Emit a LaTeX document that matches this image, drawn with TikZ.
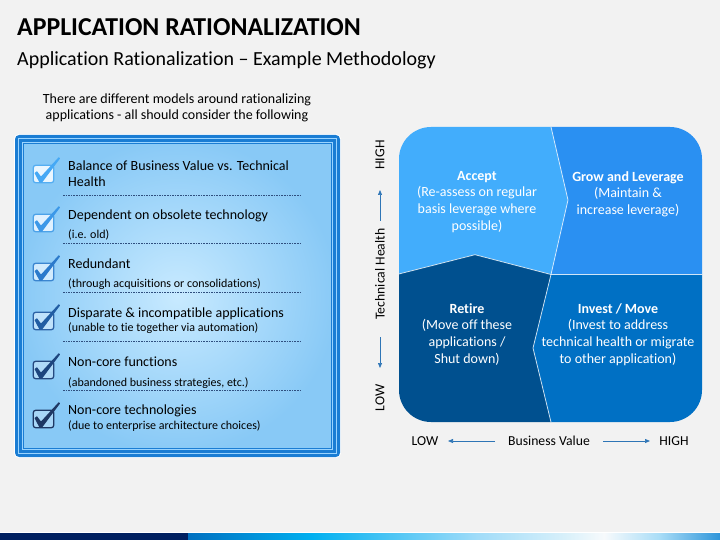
\documentclass[tikz,border=0pt]{standalone}
\usepackage{fontspec}
\setmainfont{Carlito}[Ligatures=NoCommon]
\usetikzlibrary{arrows.meta}
\definecolor{bg}{HTML}{F2F2F2}
\definecolor{boxblue}{HTML}{1A7DD4}
\definecolor{boxlight}{HTML}{9AD4FF}
\definecolor{fillin}{HTML}{C8EAFF}
\definecolor{fillout}{HTML}{88C9F6}
\definecolor{qaccept}{HTML}{42ADFC}
\definecolor{qgrow}{HTML}{2A90F2}
\definecolor{qretire}{HTML}{00508F}
\definecolor{qinvest}{HTML}{0070C4}
\definecolor{axisblue}{HTML}{2E75B6}
\definecolor{dashc}{HTML}{2F4F7F}
\definecolor{navy}{HTML}{002060}
\definecolor{g1}{HTML}{0070C0}
\definecolor{g2}{HTML}{00B0F0}
\definecolor{g3}{HTML}{A0DCF9}
\definecolor{g4}{HTML}{D8F0FA}
\definecolor{g5}{HTML}{F7FAFC}
\definecolor{g6}{HTML}{A9DDF7}
\definecolor{g7}{HTML}{2E95DA}
\definecolor{cA}{HTML}{45A8F5}\definecolor{fA}{HTML}{EAF6FF}\definecolor{bA}{HTML}{55AEF2}
\definecolor{cB}{HTML}{3C98E8}\definecolor{fB}{HTML}{E0F1FF}\definecolor{bB}{HTML}{4CA2E8}
\definecolor{cC}{HTML}{2C7ACB}\definecolor{fC}{HTML}{D2EBFD}\definecolor{bC}{HTML}{3C86D0}
\definecolor{cD}{HTML}{215DA3}\definecolor{fD}{HTML}{C0E2FB}\definecolor{bD}{HTML}{2D63A6}
\definecolor{cE}{HTML}{1D457E}\definecolor{fE}{HTML}{B0DAF8}\definecolor{bE}{HTML}{26497F}
\definecolor{cF}{HTML}{1F3864}\definecolor{fF}{HTML}{A8D6F7}\definecolor{bF}{HTML}{1F3864}
\newcommand\FS[2]{\fontsize{#1}{#2}\selectfont}
\newcommand\ChkItem[5]{%
  \node[chkbox, fill=#3, draw=#4] (#1) at (43.5,#2) {};
  \fill[#5, rounded corners=0.4pt, shift={(43.5,#2)}] (-9,-1) -- (-6.5,-2.8) -- (-2.5,2.5) -- (15.2,-16.8) -- (16.6,-15.6) -- (-1.5,8.6) -- (-4,8.6) -- cycle;
}
\begin{document}
\begin{tikzpicture}[x=1pt,y=-1pt,
  chkbox/.style={minimum width=20.5pt, minimum height=17.5pt, inner sep=0, rounded corners=2.5pt, line width=1.3pt},
  itemmain/.style={anchor=base west, inner sep=0, font=\FS{14}{17}},
  itemsub/.style={anchor=base west, inner sep=0, font=\FS{12}{14}},
  dashline/.style={dashc, line width=0.6pt, dash pattern=on 1.6pt off 1pt},
  qtext/.style={white, align=center, inner sep=0, anchor=north, font=\FS{14}{16.7}},
  axtext/.style={inner sep=0, font=\FS{13.7}{15}},
  axarrow/.style={axisblue, line width=0.7pt, -{Triangle[length=5pt,width=4pt]}},
  sep/.style={white, opacity=0.75, line width=0.8pt}]
\useasboundingbox (0,0) rectangle (720,540);
\fill[bg] (0,0) rectangle (720,540);

% titles
\node[anchor=base west, inner sep=0, font=\bfseries\FS{25.8}{30}] (title) at (17,36) {APPLICATION RATIONALIZATION};
\node[anchor=base west, inner sep=0, font=\FS{20}{24}] (subtitle) at (17,65.7) {Application Rationalization – Example Methodology};

% intro
\node[anchor=base, inner sep=0, font=\FS{14}{16}] (intro1) at (177,104) {There are different models around rationalizing};
\node[anchor=base, inner sep=0, font=\FS{14}{16}] (intro2) at (177,120) {applications - all should consider the following};

% blue box
\draw[white, line width=0.8pt, rounded corners=4pt] (14.6,134.6) rectangle (340.4,457.4);
\shade[inner color=fillin, outer color=fillout, shading=radial] (18,138) rectangle (337,454);
\draw[boxblue, line width=2.8pt, rounded corners=3pt] (16.4,136.4) rectangle (338.6,455.6);
\draw[boxlight, line width=1.4pt] (18.6,138.6) rectangle (336.4,453.4);
\draw[boxblue, line width=2.4pt] (20.5,140.5) rectangle (334.5,451.5);
\draw[boxlight, line width=1.1pt] (22.3,142.3) rectangle (332.7,449.7);
\draw[boxblue, line width=0.9pt] (23.4,143.4) rectangle (331.6,448.6);

% items
\ChkItem{k1}{174}{fA}{bA}{cA}
\ChkItem{k2}{223}{fB}{bB}{cB}
\ChkItem{k3}{272}{fC}{bC}{cC}
\ChkItem{k4}{321}{fD}{bD}{cD}
\ChkItem{k5}{370}{fE}{bE}{cE}
\ChkItem{k6}{419}{fF}{bF}{cF}

\node[itemmain] (t1a) at (68,171) {Balance of Business Value vs. Technical};
\node[itemmain] (t1b) at (68,186.5) {Health};
\draw[dashline] (63,195.5) -- (302,195.5);
\node[itemmain] (t2a) at (68,219) {Dependent on obsolete technology};
\node[itemsub] (t2b) at (68,238) {(i.e. old)};
\draw[dashline] (63,243.5) -- (302,243.5);
\node[itemmain] (t3a) at (68,268) {Redundant};
\node[itemsub] (t3b) at (68,287) {(through acquisitions or consolidations)};
\draw[dashline] (63,292.5) -- (302,292.5);
\node[itemmain] (t4a) at (68,317) {Disparate \& incompatible applications};
\node[itemsub] (t4b) at (68,331) {(unable to tie together via automation)};
\draw[dashline] (63,341.5) -- (302,341.5);
\node[itemmain] (t5a) at (68,366) {Non-core functions};
\node[itemsub] (t5b) at (68,386) {(abandoned business strategies, etc.)};
\draw[dashline] (63,390.5) -- (302,390.5);
\node[itemmain] (t6a) at (68,414.5) {Non-core technologies};
\node[itemsub] (t6b) at (68,429.5) {(due to enterprise architecture choices)};

% matrix
\begin{scope}
\clip[rounded corners=32pt] (399,127) rectangle (702,422);
\fill[qaccept] (390,120) -- (549.4,120) -- (568,200) -- (551,274.5) -- (475,254.7) -- (390,276.25) -- cycle;
\fill[qgrow] (549.4,120) -- (710,120) -- (710,274.5) -- (551,274.5) -- (568,200) -- cycle;
\fill[qretire] (390,276.25) -- (475,254.7) -- (551,274.5) -- (533,348) -- (552.9,430) -- (390,430) -- cycle;
\fill[qinvest] (551,274.5) -- (710,274.5) -- (710,430) -- (552.9,430) -- (533,348) -- cycle;
\draw[sep] (549.4,120) -- (568,200) -- (551,274.5) -- (533,348) -- (552.9,430);
\draw[sep] (390,276.25) -- (475,254.7) -- (551,274.5) -- (710,274.5);
\end{scope}

\node[qtext] (accept) at (477,171) {\textbf{Accept}\\(Re-assess on regular\\basis leverage where\\possible)};
\node[qtext] (grow) at (628,171) {\textbf{Grow and Leverage}\\(Maintain \&\\increase leverage)};
\node[qtext] (retire) at (467,303) {\textbf{Retire}\\(Move off these\\applications /\\Shut down)};
\node[qtext] (invest) at (618,303) {\textbf{Invest / Move}\\(Invest to address\\technical health or migrate\\to other application)};

% axes
\node[axtext, rotate=90] (vhigh) at (380,155) {HIGH};
\node[axtext, rotate=90] (vlab) at (380,274) {Technical Health};
\node[axtext, rotate=90] (vlow) at (380,398) {LOW};
\coordinate (upt) at (380,221);
\coordinate (uph) at (380,190);
\coordinate (dnt) at (380,337);
\coordinate (dnh) at (380,368);
\draw[axarrow] (upt) -- (uph);
\draw[axarrow] (dnt) -- (dnh);

\node[axtext] (hlow) at (425,441) {LOW};
\node[axtext] (hlab) at (549,441) {Business Value};
\node[axtext] (hhigh) at (674,441) {HIGH};
\coordinate (lt) at (495,441);
\coordinate (lh) at (448,441);
\coordinate (rt) at (603,441);
\coordinate (rh) at (650,441);
\draw[axarrow] (lt) -- (lh);
\draw[axarrow] (rt) -- (rh);

% bottom bar
\fill[white] (0,531.8) rectangle (720,533);
\fill[navy] (0,533) rectangle (188.2,540);
\shade[left color=g1, right color=g2] (188,533) rectangle (312.2,540);
\shade[left color=g2, right color=g3] (312,533) rectangle (477.2,540);
\shade[left color=g3, right color=g4] (477,533) rectangle (565.2,540);
\shade[left color=g4, right color=g5] (565,533) rectangle (604.2,540);
\shade[left color=g5, right color=g6] (604,533) rectangle (659.2,540);
\shade[left color=g6, right color=g7] (659,533) rectangle (720,540);
\end{tikzpicture}
\end{document}
